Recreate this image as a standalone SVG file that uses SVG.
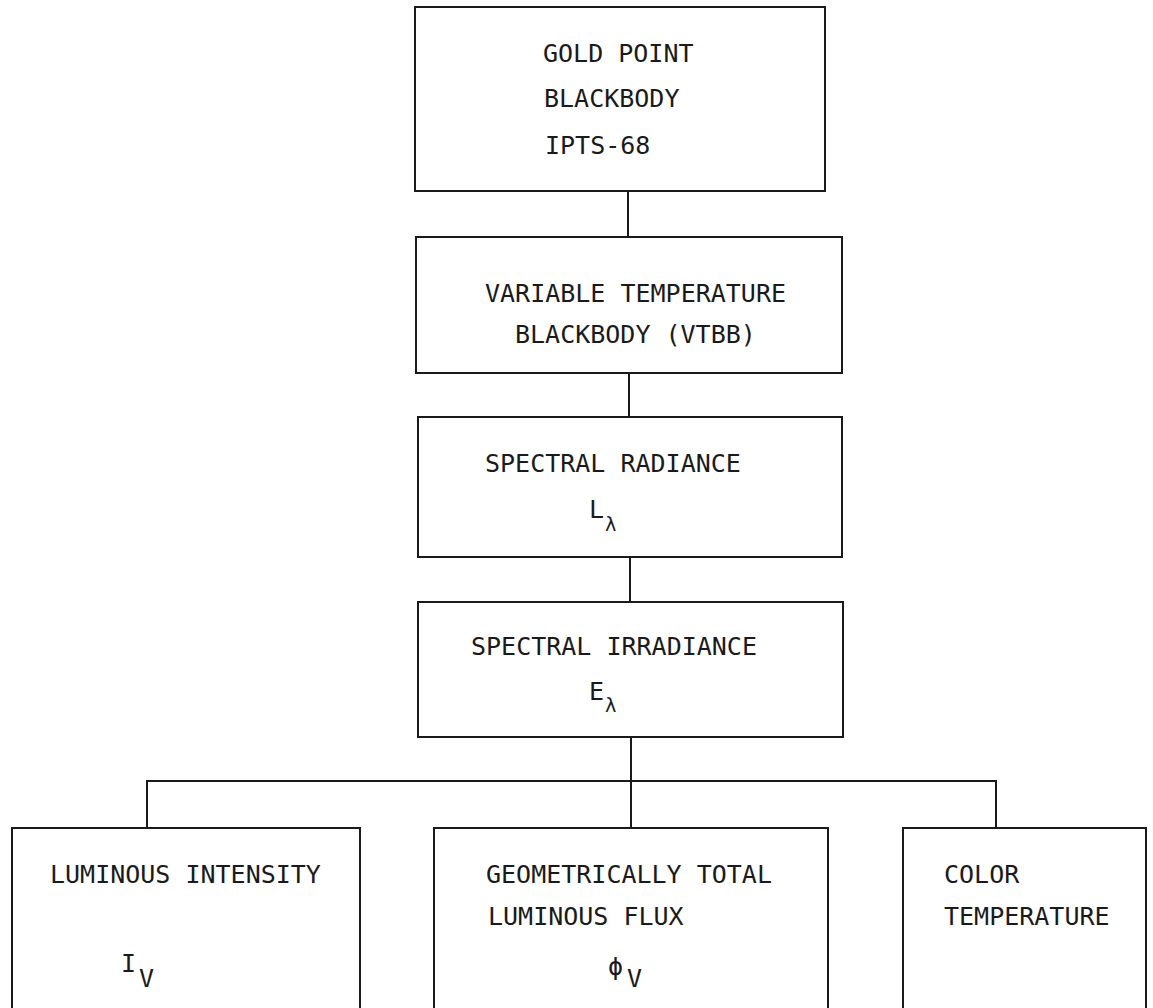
<svg xmlns="http://www.w3.org/2000/svg" width="1153" height="1008" viewBox="0 0 1153 1008">
<style>
.box{fill:none;stroke:#1a1a1a;stroke-width:2}
.con{fill:none;stroke:#1a1a1a;stroke-width:2}
text{font-family:"DejaVu Sans Mono","Liberation Mono",monospace;fill:#1a1a1a;font-size:25px}
.sub{font-size:19px}
</style>
<rect width="1153" height="1008" fill="#fff"/>
<g id="connectors">
<line class="con" x1="628" y1="191" x2="628" y2="237"/>
<line class="con" x1="629" y1="373" x2="629" y2="417"/>
<line class="con" x1="630" y1="557" x2="630" y2="602"/>
<line class="con" x1="631" y1="737" x2="631" y2="828"/>
<polyline class="con" points="147,828 147,781 996,781 996,828"/>
</g>
<g id="gold-point">
<rect class="box" x="415" y="7" width="410" height="184"/>
<text x="543" y="62">GOLD POINT</text>
<text x="544" y="107">BLACKBODY</text>
<text x="545" y="154">IPTS-68</text>
</g>
<g id="vtbb">
<rect class="box" x="416" y="237" width="426" height="136"/>
<text x="485" y="302">VARIABLE TEMPERATURE</text>
<text x="515" y="343">BLACKBODY (VTBB)</text>
</g>
<g id="spectral-radiance">
<rect class="box" x="418" y="417" width="424" height="140"/>
<text x="485" y="472">SPECTRAL RADIANCE</text>
<text x="589" y="518">L</text>
<text class="sub" x="605" y="531">λ</text>
</g>
<g id="spectral-irradiance">
<rect class="box" x="418" y="602" width="425" height="135"/>
<text x="471" y="655">SPECTRAL IRRADIANCE</text>
<text x="589" y="700">E</text>
<text class="sub" x="605" y="712">λ</text>
</g>
<g id="luminous-intensity">
<polyline class="box" points="12,1008 12,828 360,828 360,1008"/>
<text x="50" y="883">LUMINOUS INTENSITY</text>
<text x="121" y="972">I</text>
<text x="139" y="987" font-size="20">V</text>
</g>
<g id="luminous-flux">
<polyline class="box" points="434,1008 434,828 828,828 828,1008"/>
<text x="486" y="883">GEOMETRICALLY TOTAL</text>
<text x="488" y="925">LUMINOUS FLUX</text>
<text x="608" y="975" font-size="21">ϕ</text>
<text x="627" y="987" font-size="20">V</text>
</g>
<g id="color-temperature">
<polyline class="box" points="903,1008 903,828 1146,828 1146,1008"/>
<text x="944" y="883">COLOR</text>
<text x="944" y="925">TEMPERATURE</text>
</g>
</svg>
